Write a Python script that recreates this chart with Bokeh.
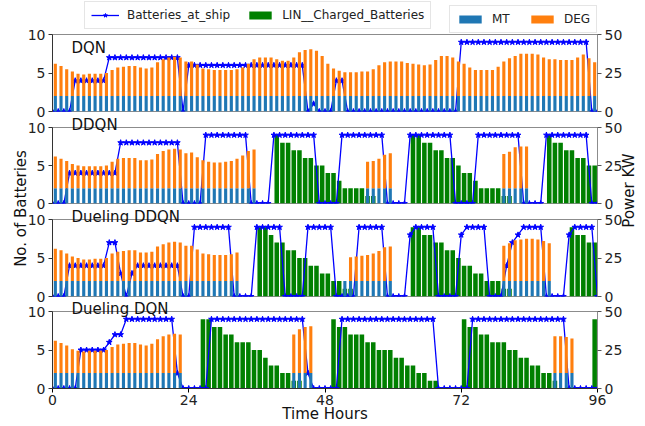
import math
from bokeh.plotting import figure
from bokeh.models import (Range1d, LinearAxis, FixedTicker, Label, Legend,
                          LegendItem, ColumnDataSource)
from bokeh.layouts import column
from bokeh.embed import file_html
from bokeh.resources import INLINE

# ---------------- data ----------------
hours = list(range(96))          # bar slots (one per hour)
ship_hours = list(range(97))     # line points at whole hours 0..96

titles = ["DQN", "DDQN", "Dueling DDQN", "Dueling DQN"]

# Batteries_at_ship (left axis, count)
dqn_ship = [0, 0, 0, 0, 4, 4, 4, 4, 4, 4, 7, 7, 7, 7, 7, 7, 7, 7, 7, 7, 7, 7, 7, 0,
            6, 6, 6, 6, 6, 6, 6, 6, 6, 6, 6, 6, 6, 6, 6, 6, 6, 6, 6, 6, 6, 0, 1, 0,
            0, 0, 4, 4, 0, 0, 0, 0, 0, 0, 0, 0, 0, 0, 0, 0, 0, 0, 0, 0, 0, 0, 0, 0,
            9, 9, 9, 9, 9, 9, 9, 9, 9, 9, 9, 9, 9, 9, 9, 9, 9, 9, 9, 9, 9, 9, 9, 0, 0]
ddqn_ship = [0, 0, 0, 4, 4, 4, 4, 4, 4, 4, 4, 4, 8, 8, 8, 8, 8, 8, 8, 8, 8, 8, 8, 0,
             0, 0, 0, 9, 9, 9, 9, 9, 9, 9, 9, 0, 0, 0, 0, 9, 9, 9, 9, 9, 9, 9, 9, 0,
             0, 0, 0, 9, 9, 9, 9, 9, 9, 9, 9, 0, 0, 0, 0, 9, 9, 9, 9, 9, 9, 9, 9, 0,
             0, 0, 0, 9, 9, 9, 9, 9, 9, 9, 9, 0, 0, 0, 0, 9, 9, 9, 9, 9, 9, 9, 9, 0, 0]
dddqn_ship = [0, 0, 0, 4, 4, 4, 4, 4, 4, 4, 7, 7, 3, 0, 3, 4, 4, 4, 4, 4, 4, 4, 4, 0,
              0, 9, 9, 9, 9, 9, 9, 9, 0, 0, 0, 0, 9, 9, 9, 9, 9, 0, 0, 0, 0, 9, 9, 9,
              9, 9, 0, 0, 0, 0, 9, 9, 9, 9, 9, 0, 0, 0, 0, 8, 9, 9, 9, 9, 0, 0, 0, 0,
              8, 9, 9, 9, 9, 0, 0, 0, 4, 7, 8, 9, 9, 9, 9, 0, 0, 0, 0, 8, 9, 9, 9, 9, 0]
ddqn2_ship = [0, 0, 0, 0, 0, 5, 5, 5, 5, 5, 6, 7, 7, 9, 9, 9, 9, 9, 9, 9, 9, 9, 2, 0,
              0, 0, 0, 0, 9, 9, 9, 9, 9, 9, 9, 9, 9, 9, 9, 9, 9, 9, 9, 9, 9, 2, 0, 0,
              0, 0, 0, 9, 9, 9, 9, 9, 9, 9, 9, 9, 9, 9, 9, 9, 9, 9, 9, 9, 0, 0, 0, 0,
              0, 0, 9, 9, 9, 9, 9, 9, 9, 9, 9, 9, 9, 9, 9, 9, 9, 9, 9, 0, 0, 0, 0, 0, 0]

# LIN__Charged_Batteries (left axis, count)
dqn_lin = [0] * 96
ddqn_lin = [0, 0, 0, 0, 0, 0, 0, 0, 0, 0, 0, 0, 0, 0, 0, 0, 0, 0, 0, 0, 0, 0, 0, 0,
            0, 0, 0, 0, 0, 0, 0, 0, 0, 0, 0, 0, 0, 0, 0, 9, 8, 8, 7, 7, 6, 6, 5, 5,
            4, 4, 3, 2, 2, 2, 2, 1, 1, 0, 0, 0, 0, 0, 0, 9, 9, 8, 8, 7, 7, 6, 6, 5,
            4, 4, 3, 2, 2, 2, 2, 1, 1, 0, 0, 0, 0, 0, 0, 9, 8, 8, 7, 7, 6, 6, 5, 5]
dddqn_lin = [0, 0, 0, 0, 0, 0, 0, 0, 0, 0, 0, 0, 0, 0, 0, 0, 0, 0, 0, 0, 0, 0, 0, 0,
             0, 0, 0, 0, 0, 0, 0, 0, 0, 0, 0, 0, 9, 9, 8, 7, 7, 6, 6, 5, 5, 4, 4, 3,
             3, 2, 2, 1, 1, 0, 0, 0, 0, 0, 0, 0, 0, 0, 0, 9, 9, 8, 8, 7, 7, 6, 6, 5,
             4, 4, 3, 3, 2, 2, 2, 1, 1, 0, 0, 0, 0, 0, 0, 0, 0, 0, 0, 9, 8, 8, 7, 7]
ddqn2_lin = [0, 0, 0, 0, 0, 0, 0, 0, 0, 0, 0, 0, 0, 0, 0, 0, 0, 0, 0, 0, 0, 0, 0, 0,
             0, 0, 9, 9, 8, 8, 7, 7, 6, 6, 6, 5, 5, 4, 3, 3, 2, 2, 1, 1, 0, 0, 0, 0,
             0, 9, 8, 8, 7, 7, 7, 6, 6, 5, 5, 5, 4, 4, 3, 3, 2, 2, 1, 1, 0, 0, 0, 0,
             9, 8, 8, 7, 7, 6, 6, 6, 5, 5, 4, 4, 3, 3, 2, 2, 1, 0, 0, 0, 0, 0, 0, 9]

# MT power (right axis, kW)
dqn_mt = [10] * 96
ddqn_mt = [10, 10, 10, 10, 10, 10, 10, 10, 10, 10, 10, 10, 10, 10, 10, 10, 10, 10, 10, 10, 10, 10, 10, 10,
           10, 10, 10, 10, 10, 10, 10, 10, 10, 10, 10, 10, 0, 0, 0, 0, 0, 0, 0, 0, 0, 0, 0, 0,
           0, 0, 0, 0, 0, 0, 0, 10, 10, 10, 10, 10, 0, 0, 0, 0, 0, 0, 0, 0, 0, 0, 0, 0,
           0, 0, 0, 0, 0, 0, 0, 10, 10, 10, 10, 10, 0, 0, 0, 0, 0, 0, 0, 0, 0, 0, 0, 0]
dddqn_mt = [10, 10, 10, 10, 10, 10, 10, 10, 10, 10, 10, 10, 10, 10, 10, 10, 10, 10, 10, 10, 10, 10, 10, 10,
            10, 10, 10, 10, 10, 10, 10, 10, 10, 0, 0, 0, 0, 0, 0, 0, 0, 0, 0, 0, 0, 0, 0, 0,
            0, 0, 0, 10, 10, 10, 10, 10, 10, 10, 10, 10, 0, 0, 0, 0, 0, 0, 0, 0, 0, 0, 0, 0,
            0, 0, 0, 0, 0, 0, 0, 10, 10, 10, 10, 10, 10, 10, 10, 10, 0, 0, 0, 0, 0, 0, 0, 0]
ddqn2_mt = [10, 10, 10, 10, 10, 10, 10, 10, 10, 10, 10, 10, 10, 10, 10, 10, 10, 10, 10, 10, 10, 10, 10, 0,
            0, 0, 0, 0, 0, 0, 0, 0, 0, 0, 0, 0, 0, 0, 0, 0, 0, 0, 10, 10, 10, 10, 0, 0,
            0, 0, 0, 0, 0, 0, 0, 0, 0, 0, 0, 0, 0, 0, 0, 0, 0, 0, 0, 0, 0, 0, 0, 0,
            0, 0, 0, 0, 0, 0, 0, 0, 0, 0, 0, 0, 0, 0, 0, 0, 10, 10, 10, 10, 0, 0, 0, 0]

# DEG power (right axis, kW, stacked on MT)
dqn_deg = [21, 19.5, 17.5, 16, 14.5, 14, 14.5, 14.5, 14.5, 15, 17, 18.5, 19, 19.5, 19.5, 18.5, 18, 18.5, 22, 24, 25, 25.5, 25, 22.5,
           22.5, 20.5, 18, 17.5, 17, 17, 17, 17, 17.5, 18.5, 21, 24, 25, 25, 25, 24, 23, 23, 25, 28.5, 30, 30.5, 29.5, 26,
           21, 18, 16.5, 15.5, 15.5, 15.5, 16, 16, 17.5, 20, 22, 22.5, 22.5, 22.5, 21.5, 21, 20.5, 20, 20.5, 23.5, 26, 26, 25, 22.5,
           21, 18.5, 17, 17, 17, 17, 19, 22.5, 24.5, 26, 27.5, 27.5, 27.5, 27, 25, 24, 24, 23.5, 23.5, 23.5, 25, 27, 24.5, 22]
ddqn_deg = [21, 19.5, 18, 16, 15, 14.5, 14.5, 14.5, 14.5, 15, 17.5, 19.5, 20, 20, 20, 18.5, 18.5, 19, 22.5, 24.5, 25.5, 26, 25.5, 23,
            23.5, 20.5, 18.5, 17.5, 17, 17, 17.5, 18, 19.5, 21.5, 24.5, 25.5, 0, 0, 0, 0, 0, 0, 0, 0, 0, 0, 0, 0,
            0, 0, 0, 0, 0, 0, 0, 17.5, 18, 19.5, 22, 23, 0, 0, 0, 0, 0, 0, 0, 0, 0, 0, 0, 0,
            0, 0, 0, 0, 0, 0, 0, 22.5, 24, 27, 27.5, 27.5, 0, 0, 0, 0, 0, 0, 0, 0, 0, 0, 0, 0]
dddqn_deg = [21, 20, 18, 16, 15, 14, 14, 14.5, 14.5, 15, 18, 19, 19.5, 20, 20, 18.5, 18.5, 19, 22.5, 24, 25, 25.5, 25, 23,
             23, 20.5, 18, 17.5, 17, 17, 17, 17.5, 18.5, 0, 0, 0, 0, 0, 0, 0, 0, 0, 0, 0, 0, 0, 0, 0,
             0, 0, 0, 0, 15.5, 16, 16.5, 17, 18, 19.5, 22, 22.5, 0, 0, 0, 0, 0, 0, 0, 0, 0, 0, 0, 0,
             0, 0, 0, 0, 0, 0, 0, 23, 24.5, 26.5, 27, 27.5, 27.5, 27, 26, 24.5, 0, 0, 0, 0, 0, 0, 0, 0]
ddqn2_deg = [21, 19.5, 18, 15.5, 14.5, 14, 14.5, 14.5, 14.5, 15, 17, 18.5, 19, 19.5, 19.5, 18.5, 18, 19, 22, 24, 25, 25.5, 25, 0,
             0, 0, 0, 0, 0, 0, 0, 0, 0, 0, 0, 0, 0, 0, 0, 0, 0, 0, 25, 28.5, 30, 30.5, 0, 0,
             0, 0, 0, 0, 0, 0, 0, 0, 0, 0, 0, 0, 0, 0, 0, 0, 0, 0, 0, 0, 0, 0, 0, 0,
             0, 0, 0, 0, 0, 0, 0, 0, 0, 0, 0, 0, 0, 0, 0, 0, 24, 24, 23.5, 22.5, 0, 0, 0, 0]

left_ticks = [0, 5, 10]
right_ticks = [0, 25, 50]
x_ticks = [0, 24, 48, 72, 96]

# ---------------- styling ----------------
W, H = 645, 426
FRAME_L, FRAME_R = 52, 597
FRAMES = [(34, 111), (127, 203), (219, 296), (311, 388)]
TITLE_BASE = [47, 124, 216, 308]
FONT = "DejaVu Sans"
C_MT, C_DEG, C_LIN, C_SHIP = "#1f77b4", "#ff7f0e", "#008000", "#0000ff"
TXT = "#111111"

panels = [
    (dqn_ship, dqn_lin, dqn_mt, dqn_deg),
    (ddqn_ship, ddqn_lin, ddqn_mt, ddqn_deg),
    (dddqn_ship, dddqn_lin, dddqn_mt, dddqn_deg),
    (ddqn2_ship, ddqn2_lin, ddqn2_mt, ddqn2_deg),
]

figs = []
for i, (ship, lin, mt, deg) in enumerate(panels):
    top, bottom = FRAMES[i]
    last = (i == 3)
    p = figure(width=W, height=H, output_backend="svg", toolbar_location=None, tools="",
               x_range=Range1d(0, 96), y_range=Range1d(0, 10),
               x_axis_location="below" if last else None,
               min_border_left=FRAME_L, min_border_right=W - FRAME_R,
               min_border_top=top, min_border_bottom=H - bottom)
    p.frame_align = False
    p.extra_y_ranges = {"power": Range1d(0, 50)}
    p.background_fill_alpha = 0
    p.border_fill_alpha = 0
    p.outline_line_color = "#8c8c8c"
    p.outline_line_width = 1
    p.xgrid.visible = False
    p.ygrid.visible = False

    lin_src = ColumnDataSource(dict(x=[h + 0.5 for h, v in zip(hours, lin) if v > 0],
                                    top=[v for v in lin if v > 0]))
    mt_src = ColumnDataSource(dict(x=[h + 0.5 for h, v in zip(hours, mt) if v > 0],
                                   top=[v for v in mt if v > 0]))
    deg_src = ColumnDataSource(dict(x=[h + 0.5 for h, m, d in zip(hours, mt, deg) if d > 0],
                                    bottom=[m for m, d in zip(mt, deg) if d > 0],
                                    top=[m + d for m, d in zip(mt, deg) if d > 0]))
    ship_src = ColumnDataSource(dict(x=ship_hours, y=ship))

    p.vbar(x="x", top="top", bottom=0, width=0.8, source=lin_src,
           fill_color=C_LIN, line_color=None)
    p.line("x", "y", source=ship_src, line_color=C_SHIP, line_width=1.3)
    p.scatter("x", "y", source=ship_src, marker="star", size=6,
              fill_color=C_SHIP, line_color=C_SHIP)
    p.vbar(x="x", top="top", bottom=0, width=0.55, source=mt_src,
           fill_color=C_MT, line_color=None, y_range_name="power")
    p.vbar(x="x", top="top", bottom="bottom", width=0.55, source=deg_src,
           fill_color=C_DEG, line_color=None, y_range_name="power")

    ax = p.yaxis[0]
    ax.ticker = FixedTicker(ticks=left_ticks)
    right = LinearAxis(y_range_name="power", ticker=FixedTicker(ticks=right_ticks))
    p.add_layout(right, "right")
    for a in p.yaxis:
        a.major_label_text_font = FONT
        a.major_label_text_font_size = "14px"
        a.major_label_text_color = "#222222"
        a.major_tick_out = 4
        a.major_tick_in = 0
        a.minor_tick_out = 0
        a.minor_tick_in = 0
        a.major_label_standoff = 3
    ax.axis_line_color = "#333333"
    ax.major_tick_line_color = "#333333"
    right.axis_line_color = "#8c8c8c"
    right.major_tick_line_color = "#555555"

    if last:
        xa = p.xaxis[0]
        xa.ticker = FixedTicker(ticks=x_ticks)
        xa.major_label_text_font = FONT
        xa.major_label_text_font_size = "14px"
        xa.major_label_text_color = "#222222"
        xa.major_tick_out = 4
        xa.major_tick_in = 0
        xa.minor_tick_out = 0
        xa.minor_tick_in = 0
        xa.major_label_standoff = 2
        xa.axis_line_color = "#333333"
    if i > 0:
        p.margin = (-H, 0, 0, 0)
    figs.append(p)

# ---------------- overlay figure for texts and legends (frame = whole canvas) ----------------
ov = figure(width=W, height=H, output_backend="svg", toolbar_location=None, tools="",
            x_range=Range1d(0, W), y_range=Range1d(H, 0),
            x_axis_location=None, y_axis_location=None,
            min_border_left=0, min_border_right=0, min_border_top=0, min_border_bottom=0)
ov.frame_align = False
ov.background_fill_alpha = 0
ov.border_fill_alpha = 0
ov.outline_line_color = None
ov.xgrid.visible = False
ov.ygrid.visible = False
ov.margin = (-H, 0, 0, 0)

for i, t in enumerate(titles):
    ov.add_layout(Label(x=71, y=TITLE_BASE[i], text=t, text_font=FONT, text_font_size="15px",
                        text_color=TXT, text_baseline="alphabetic"))
ov.add_layout(Label(x=(FRAME_L + FRAME_R) / 2, y=413, text="Time Hours", text_font=FONT,
                    text_font_size="15px", text_color=TXT, text_align="center",
                    text_baseline="middle"))
ov.add_layout(Label(x=20, y=208, text="No. of Batteries", text_font=FONT, text_font_size="15px",
                    angle=math.pi / 2, text_color=TXT, text_align="center", text_baseline="middle"))
ov.add_layout(Label(x=628, y=190, text="Power KW", text_font=FONT, text_font_size="15px",
                    angle=math.pi / 2, text_color=TXT, text_align="center", text_baseline="middle"))

# legend proxies (one point far outside the visible range, carrying the same styles)
proxy = ColumnDataSource(dict(x=[-1000], y=[-1000], top=[-1000]))
g_line = ov.line("x", "y", source=proxy, line_color=C_SHIP, line_width=1.3)
g_pts = ov.scatter("x", "y", source=proxy, marker="star", size=6, fill_color=C_SHIP, line_color=C_SHIP)
g_lin = ov.vbar(x="x", top="top", width=1, source=proxy, fill_color=C_LIN, line_color=None)
g_mt = ov.vbar(x="x", top="top", width=1, source=proxy, fill_color=C_MT, line_color=None)
g_deg = ov.vbar(x="x", top="top", width=1, source=proxy, fill_color=C_DEG, line_color=None)

leg1 = Legend(items=[LegendItem(label="Batteries_at_ship", renderers=[g_line, g_pts]),
                     LegendItem(label="LIN__Charged_Batteries", renderers=[g_lin])],
              orientation="horizontal", location=(84, H - 29))
leg2 = Legend(items=[LegendItem(label="MT", renderers=[g_mt]),
                     LegendItem(label="DEG", renderers=[g_deg])],
              orientation="horizontal", location=(449, H - 33))
for lg in (leg1, leg2):
    lg.label_text_font = FONT
    lg.label_text_font_size = "12px"
    lg.label_text_color = "#222222"
    lg.glyph_width = 28
    lg.glyph_height = 10
    lg.label_standoff = 8
    lg.spacing = 16
    lg.padding = 6
    lg.margin = 0
    lg.border_line_color = "#cccccc"
    lg.background_fill_alpha = 0.9
    ov.add_layout(lg)

figs.append(ov)
layout = column(figs, spacing=0)
open("out.html", "w").write(file_html(layout, INLINE))
